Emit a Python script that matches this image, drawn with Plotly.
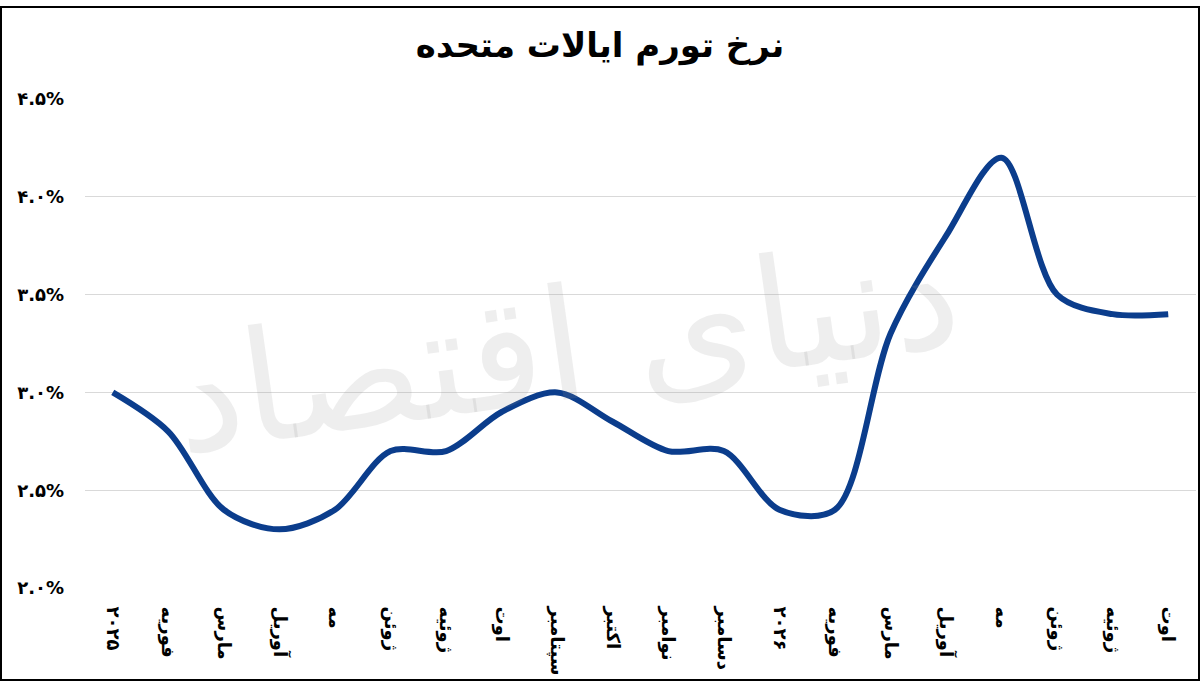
import plotly.graph_objects as go

months = ["۲۰۲۵", "فوریه", "مارس", "آوریل", "مه", "ژوئن", "ژوئیه", "اوت", "سپتامبر", "اکتبر",
          "نوامبر", "دسامبر", "۲۰۲۶", "فوریه", "مارس", "آوریل", "مه", "ژوئن", "ژوئیه", "اوت"]
inflation = [3.0, 2.8, 2.4, 2.3, 2.4, 2.7, 2.7, 2.9, 3.0, 2.85,
             2.7, 2.7, 2.4, 2.4, 3.3, 3.8, 4.2, 3.5, 3.4, 3.4]
y_tickvals = [2.0, 2.5, 3.0, 3.5, 4.0, 4.5]
y_ticktext = ["۲.۰%", "۲.۵%", "۳.۰%", "۳.۵%", "۴.۰%", "۴.۵%"]
title_text = "نرخ تورم ایالات متحده"
watermark = "دنیای اقتصاد"

x_idx = list(range(len(months)))

W, H = 1200, 681
L, R, T, B = 85, 4, 99, 93
pw, ph = W - L - R, H - T - B

fig = go.Figure()
fig.add_trace(go.Scatter(
    x=x_idx, y=inflation, mode="lines",
    line=dict(color="#0b3d8c", width=6, shape="spline", smoothing=0.9),
    hoverinfo="skip", showlegend=False,
))

fig.update_layout(
    width=W, height=H,
    margin=dict(l=L, r=R, t=T, b=B),
    paper_bgcolor="white", plot_bgcolor="white",
    font=dict(family="DejaVu Sans", color="black"),
    title=dict(text="<b>" + title_text + "</b>", x=0.5, xanchor="center",
               y=1 - 45 / H, yanchor="middle", yref="container",
               font=dict(size=34, color="black", family="DejaVu Sans")),
    xaxis=dict(
        range=[-0.5, len(months) - 0.5],
        tickmode="array", tickvals=x_idx, ticktext=["<b>" + m + "</b>" for m in months],
        tickangle=90, tickfont=dict(size=18, color="black"),
        showgrid=False, zeroline=False,
        showline=True, linecolor="white", linewidth=3,
        ticks="", ticklabelstandoff=12,
    ),
    yaxis=dict(
        range=[2.0, 4.5],
        tickmode="array", tickvals=y_tickvals, ticktext=["<b>" + t + "</b>" for t in y_ticktext],
        tickfont=dict(size=18, color="black"),
        showgrid=True, gridcolor="#d9d9d9", gridwidth=1,
        zeroline=False, showline=False, ticks="", ticklabelstandoff=20,
    ),
    shapes=[dict(
        type="rect", xref="paper", yref="paper",
        x0=-(L - 1) / pw, x1=(W - L - 1) / pw,
        y0=-(B - 1) / ph, y1=(H - T - 1) / ph,
        line=dict(color="black", width=2), fillcolor="rgba(0,0,0,0)", layer="above",
    )],
    annotations=[dict(
        text=watermark, xref="paper", yref="paper",
        x=(565 - L) / pw, y=(H - B - 345) / ph, xanchor="center", yanchor="middle",
        showarrow=False, textangle=-8,
        font=dict(size=155, color="rgba(150,150,150,0.16)", family="DejaVu Sans"),
    )],
)

fig.write_html("out.html", config={"displayModeBar": False},
               post_script="document.body.style.margin='0';document.body.style.overflow='hidden';")
